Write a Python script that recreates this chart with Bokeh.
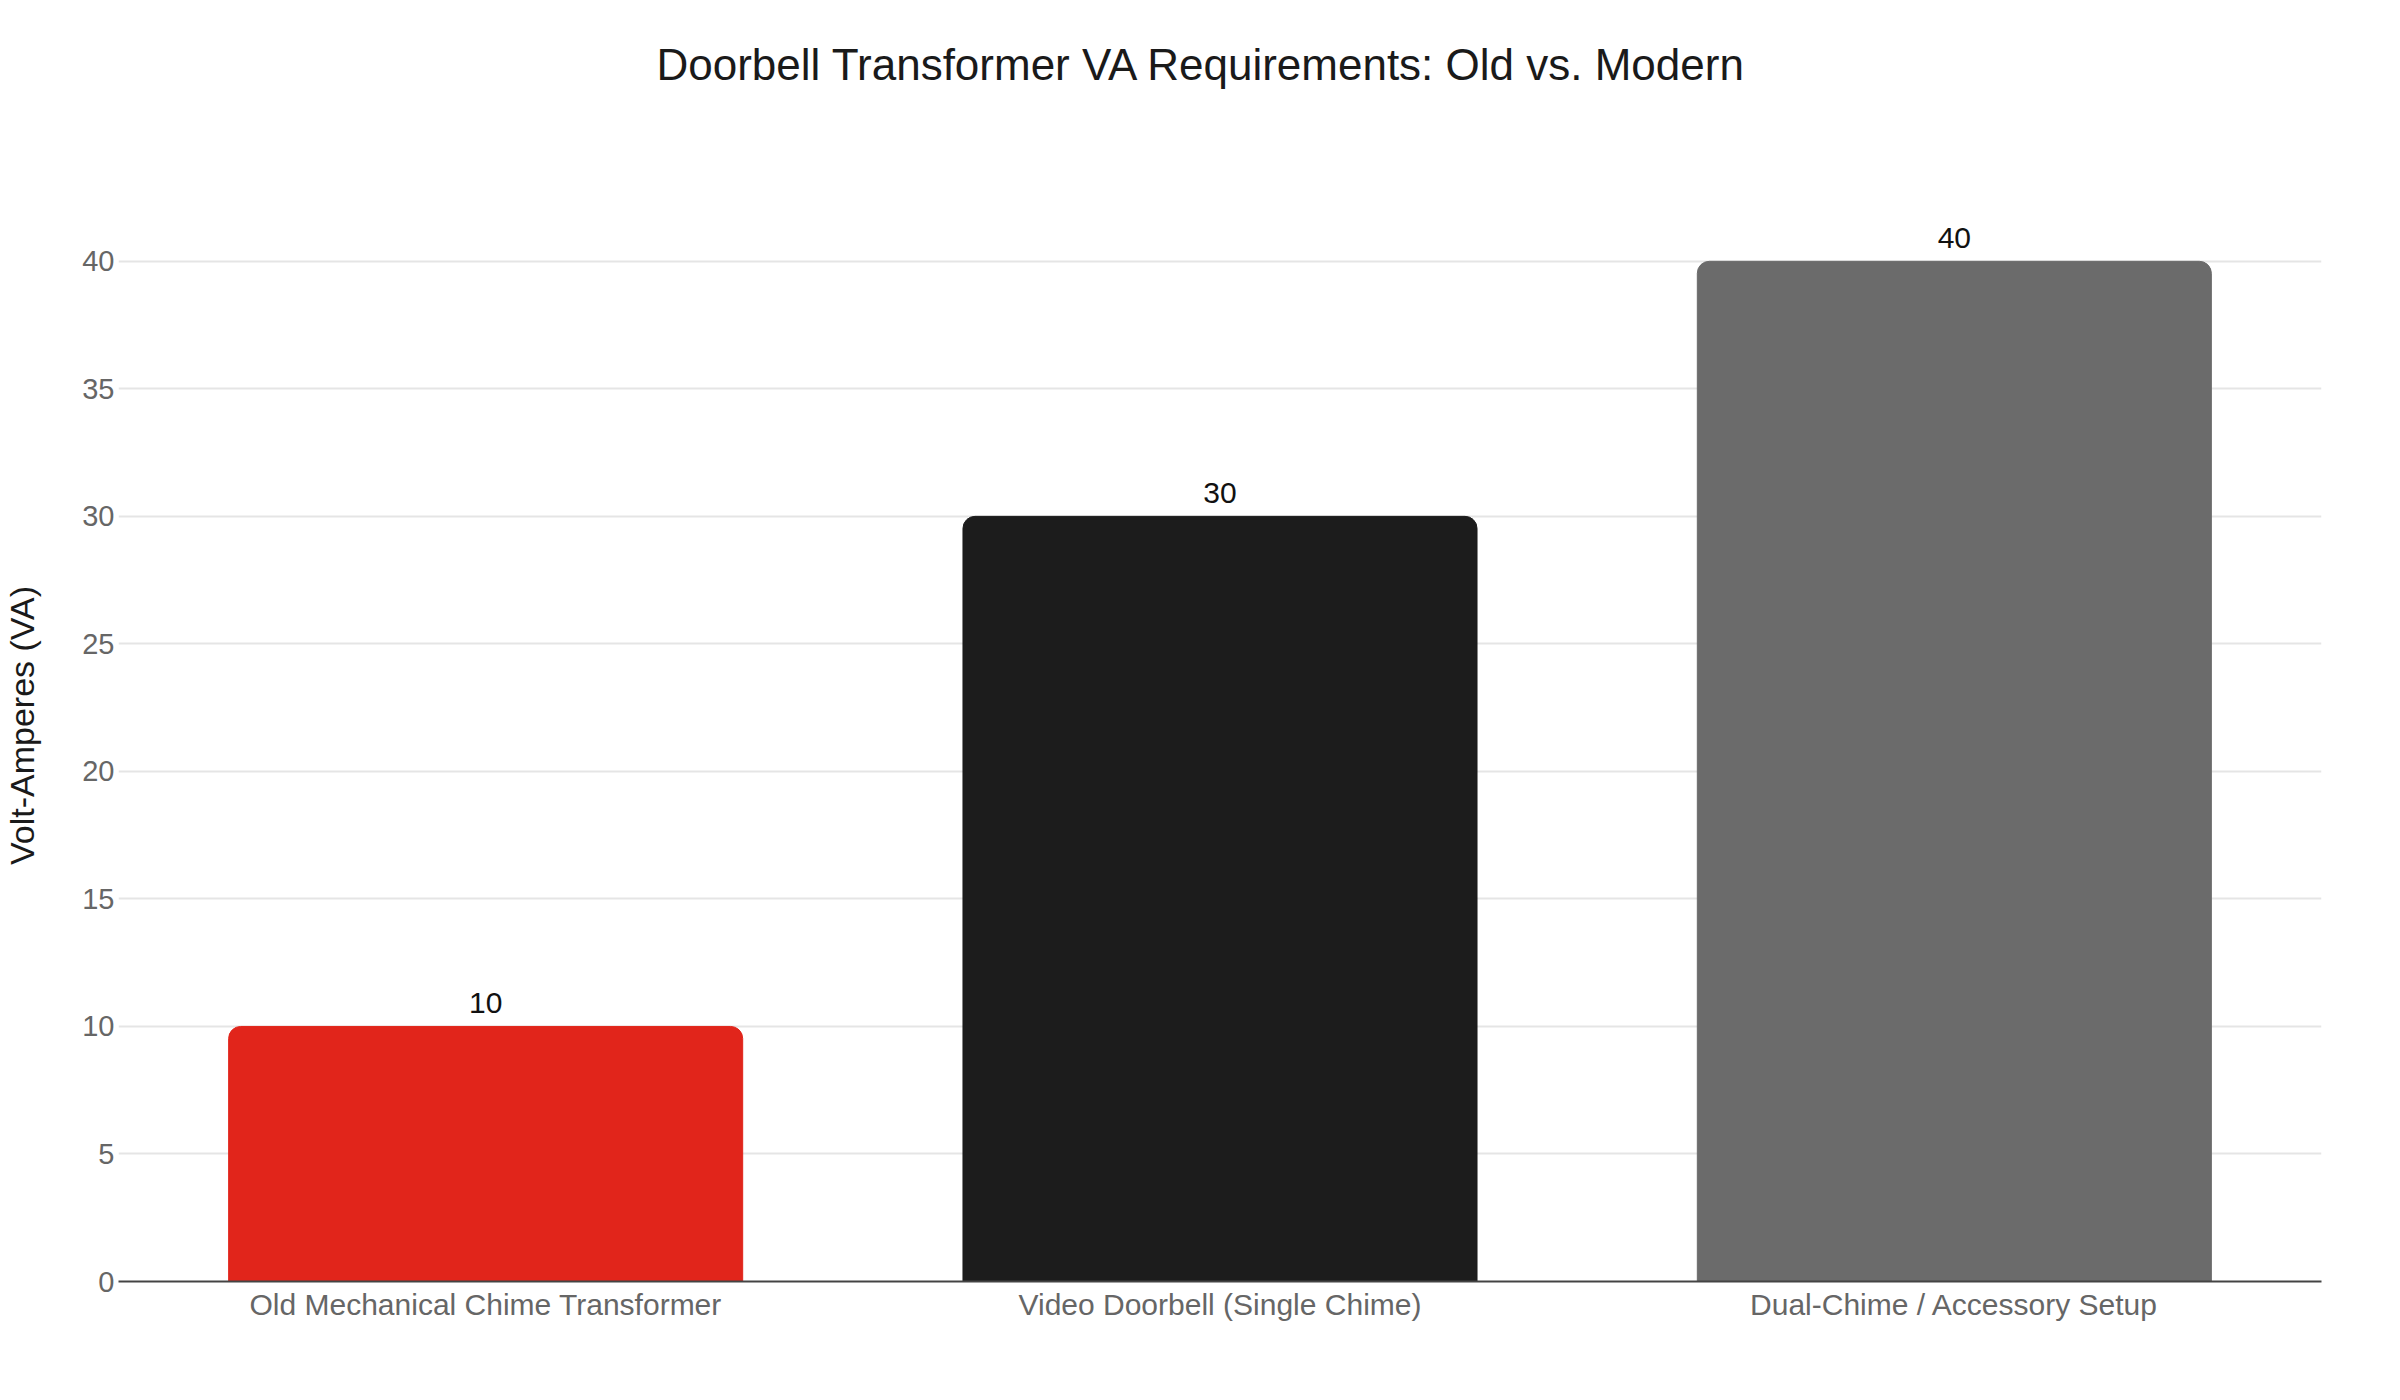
from bokeh.plotting import figure
from bokeh.models import ColumnDataSource, FixedTicker, FactorRange, Range1d, Title
from bokeh.embed import file_html
from bokeh.resources import INLINE

categories = [
    "Old Mechanical Chime Transformer",
    "Video Doorbell (Single Chime)",
    "Dual-Chime / Accessory Setup",
]
va_values = [10, 30, 40]
bar_colors = ["#E1251B", "#1C1C1C", "#6B6B6B"]
y_ticks = [0, 5, 10, 15, 20, 25, 30, 35, 40]

FONT = "Liberation Sans"
TITLE = "Doorbell Transformer VA Requirements: Old vs. Modern"

source = ColumnDataSource(dict(
    cat=categories,
    va=va_values,
    color=bar_colors,
    label=[str(v) for v in va_values],
))

p = figure(
    x_range=FactorRange(*categories),
    y_range=Range1d(0, 43.6),
    width=2384, height=1384,
    output_backend="svg", toolbar_location=None,
    min_border_left=112, min_border_right=63,
    min_border_top=169, min_border_bottom=103,
)
p.outline_line_color = None

# spacer between frame and title (panels stack outward from the frame)
p.add_layout(Title(text=" ", text_font_size="10px", standoff=68), "above")
p.add_layout(Title(
    text=TITLE, align="left", offset=538, standoff=0,
    text_font=FONT, text_font_size="44px", text_font_style="normal",
    text_color="#1a1a1a",
), "above")

p.vbar(x="cat", top="va", width=0.7, source=source,
       fill_color="color", line_color="color", border_radius=(12, 12, 0, 0))

p.text(x="cat", y="va", text="label", source=source,
       text_align="center", text_baseline="alphabetic", y_offset=-23,
       text_font_size="30px", text_color="#111111", text_font={"value": FONT})

# grid
p.xgrid.grid_line_color = None
p.ygrid.grid_line_color = "#E5E5E5"
p.ygrid.grid_line_width = 2

# y axis
p.yaxis.ticker = FixedTicker(ticks=y_ticks)
p.yaxis.axis_line_color = None
p.yaxis.major_tick_line_color = None
p.yaxis.minor_tick_line_color = None
p.yaxis.major_tick_out = 0
p.yaxis.major_label_standoff = 4
p.yaxis.major_label_text_font = FONT
p.yaxis.major_label_text_font_size = "29px"
p.yaxis.major_label_text_color = "#666666"
p.yaxis.axis_label = "Volt-Amperes (VA)"
p.yaxis.axis_label_text_font = FONT
p.yaxis.axis_label_text_font_size = "34px"
p.yaxis.axis_label_text_font_style = "normal"
p.yaxis.axis_label_text_color = "#1a1a1a"
p.yaxis.axis_label_standoff = 38

# x axis
p.xaxis.axis_line_color = "#444444"
p.xaxis.axis_line_width = 2
p.xaxis.major_tick_line_color = None
p.xaxis.major_tick_out = 0
p.xaxis.major_label_standoff = 6
p.xaxis.major_label_text_font = FONT
p.xaxis.major_label_text_font_size = "30px"
p.xaxis.major_label_text_color = "#666666"

open("out.html", "w").write(file_html(p, INLINE))
